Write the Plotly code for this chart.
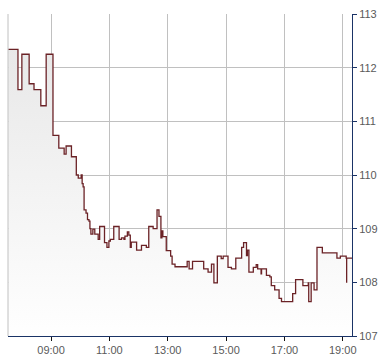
import plotly.graph_objects as go

DAY = "2024-01-02 "

times = [
    "07:32", "07:52", "08:00", "08:15", "08:25", "08:39", "08:50", "09:04",
    "09:16", "09:27", "09:31", "09:42", "09:52", "09:56", "10:02", "10:04",
    "10:06", "10:08", "10:12", "10:15", "10:18", "10:20", "10:22", "10:26",
    "10:30", "10:37", "10:40", "10:50", "10:55", "10:59", "11:02", "11:09",
    "11:20", "11:25", "11:30", "11:32", "11:37", "11:40", "11:43", "11:45",
    "11:56", "12:06", "12:16", "12:21", "12:30", "12:38", "12:42", "12:46",
    "12:48", "12:50", "12:57", "13:06", "13:09", "13:15", "13:40", "13:44",
    "13:51", "14:14", "14:23", "14:30", "14:35", "14:42", "14:50", "14:54",
    "15:04", "15:11", "15:20", "15:32", "15:36", "15:42", "15:44", "15:47",
    "15:56", "16:02", "16:05", "16:12", "16:13", "16:23", "16:30", "16:33",
    "16:40", "16:49", "16:54", "17:17", "17:23", "17:38", "17:49", "17:50",
    "17:55", "18:01", "18:07", "18:18", "18:48", "18:55", "19:07", "19:08",
    "19:08", "19:19",
]
prices = [
    112.34, 111.59, 112.25, 111.70, 111.59, 111.29, 112.25, 110.74,
    110.50, 110.39, 110.54, 110.34, 110.00, 109.94, 110.00, 109.84,
    109.78, 109.35, 109.29, 109.17, 109.14, 109.00, 108.90, 108.99,
    108.90, 108.80, 109.04, 108.74, 108.65, 108.77, 108.80, 109.04,
    108.80, 108.83, 108.80, 108.86, 108.94, 108.88, 108.65, 108.75,
    108.60, 108.69, 108.65, 109.04, 109.00, 109.35, 109.23, 108.83,
    108.96, 108.85, 108.59, 108.49, 108.34, 108.29, 108.39, 108.25,
    108.39, 108.25, 108.19, 108.34, 107.99, 108.49, 108.44, 108.49,
    108.28, 108.25, 108.45, 108.65, 108.74, 108.50, 108.60, 108.19,
    108.28, 108.33, 108.25, 108.16, 108.25, 108.13, 108.10, 107.94,
    107.86, 107.70, 107.64, 107.79, 108.05, 107.94, 107.99, 107.64,
    107.99, 107.86, 108.65, 108.55, 108.45, 108.49, 108.45, 107.99,
    108.45, 108.45,
]

x_start = "07:31:30"
x_end = "19:19"
y_ticks = [107, 108, 109, 110, 111, 112, 113]
x_tick_labels = ["09:00", "11:00", "13:00", "15:00", "17:00", "19:00"]

xs = [DAY + t for t in times]

fig = go.Figure()
fig.add_trace(go.Scatter(
    x=xs, y=prices, mode="lines",
    line=dict(color="#6b2226", width=1.3, shape="hv"),
    fill="tozeroy",
    fillgradient=dict(type="vertical",
                      colorscale=[[0, "rgb(255,255,255)"], [1, "rgb(232,232,232)"]],
                      start=107, stop=112.4),
    hoverinfo="skip",
))

grid = "#c0c0c0"
navy = "#1a3366"
fig.update_layout(
    width=390, height=364,
    margin=dict(l=8, r=38, t=11, b=26),
    paper_bgcolor="white", plot_bgcolor="white",
    showlegend=False,
    font=dict(family="Liberation Sans, Arial, sans-serif", size=11, color="#5a5a5a"),
    xaxis=dict(
        type="date",
        range=[DAY + x_start, DAY + x_end],
        tickvals=[DAY + t for t in x_tick_labels],
        ticktext=x_tick_labels,
        showgrid=True, gridcolor=grid, gridwidth=1,
        ticks="outside", ticklen=4, tickcolor="#111111",
        showline=True, linecolor=navy, linewidth=1,
        zeroline=False,
    ),
    yaxis=dict(
        side="right",
        range=[107, 113],
        tickvals=y_ticks,
        ticktext=[str(v) for v in y_ticks],
        showgrid=True, gridcolor=grid, gridwidth=1,
        ticks="outside", ticklen=4, tickcolor=navy,
        showline=True, linecolor=navy, linewidth=1,
        zeroline=False,
    ),
    shapes=[dict(type="line", xref="paper", yref="paper", x0=0, x1=0, y0=0, y1=1,
                 line=dict(color=grid, width=1))],
)

fig.write_html("out.html")
